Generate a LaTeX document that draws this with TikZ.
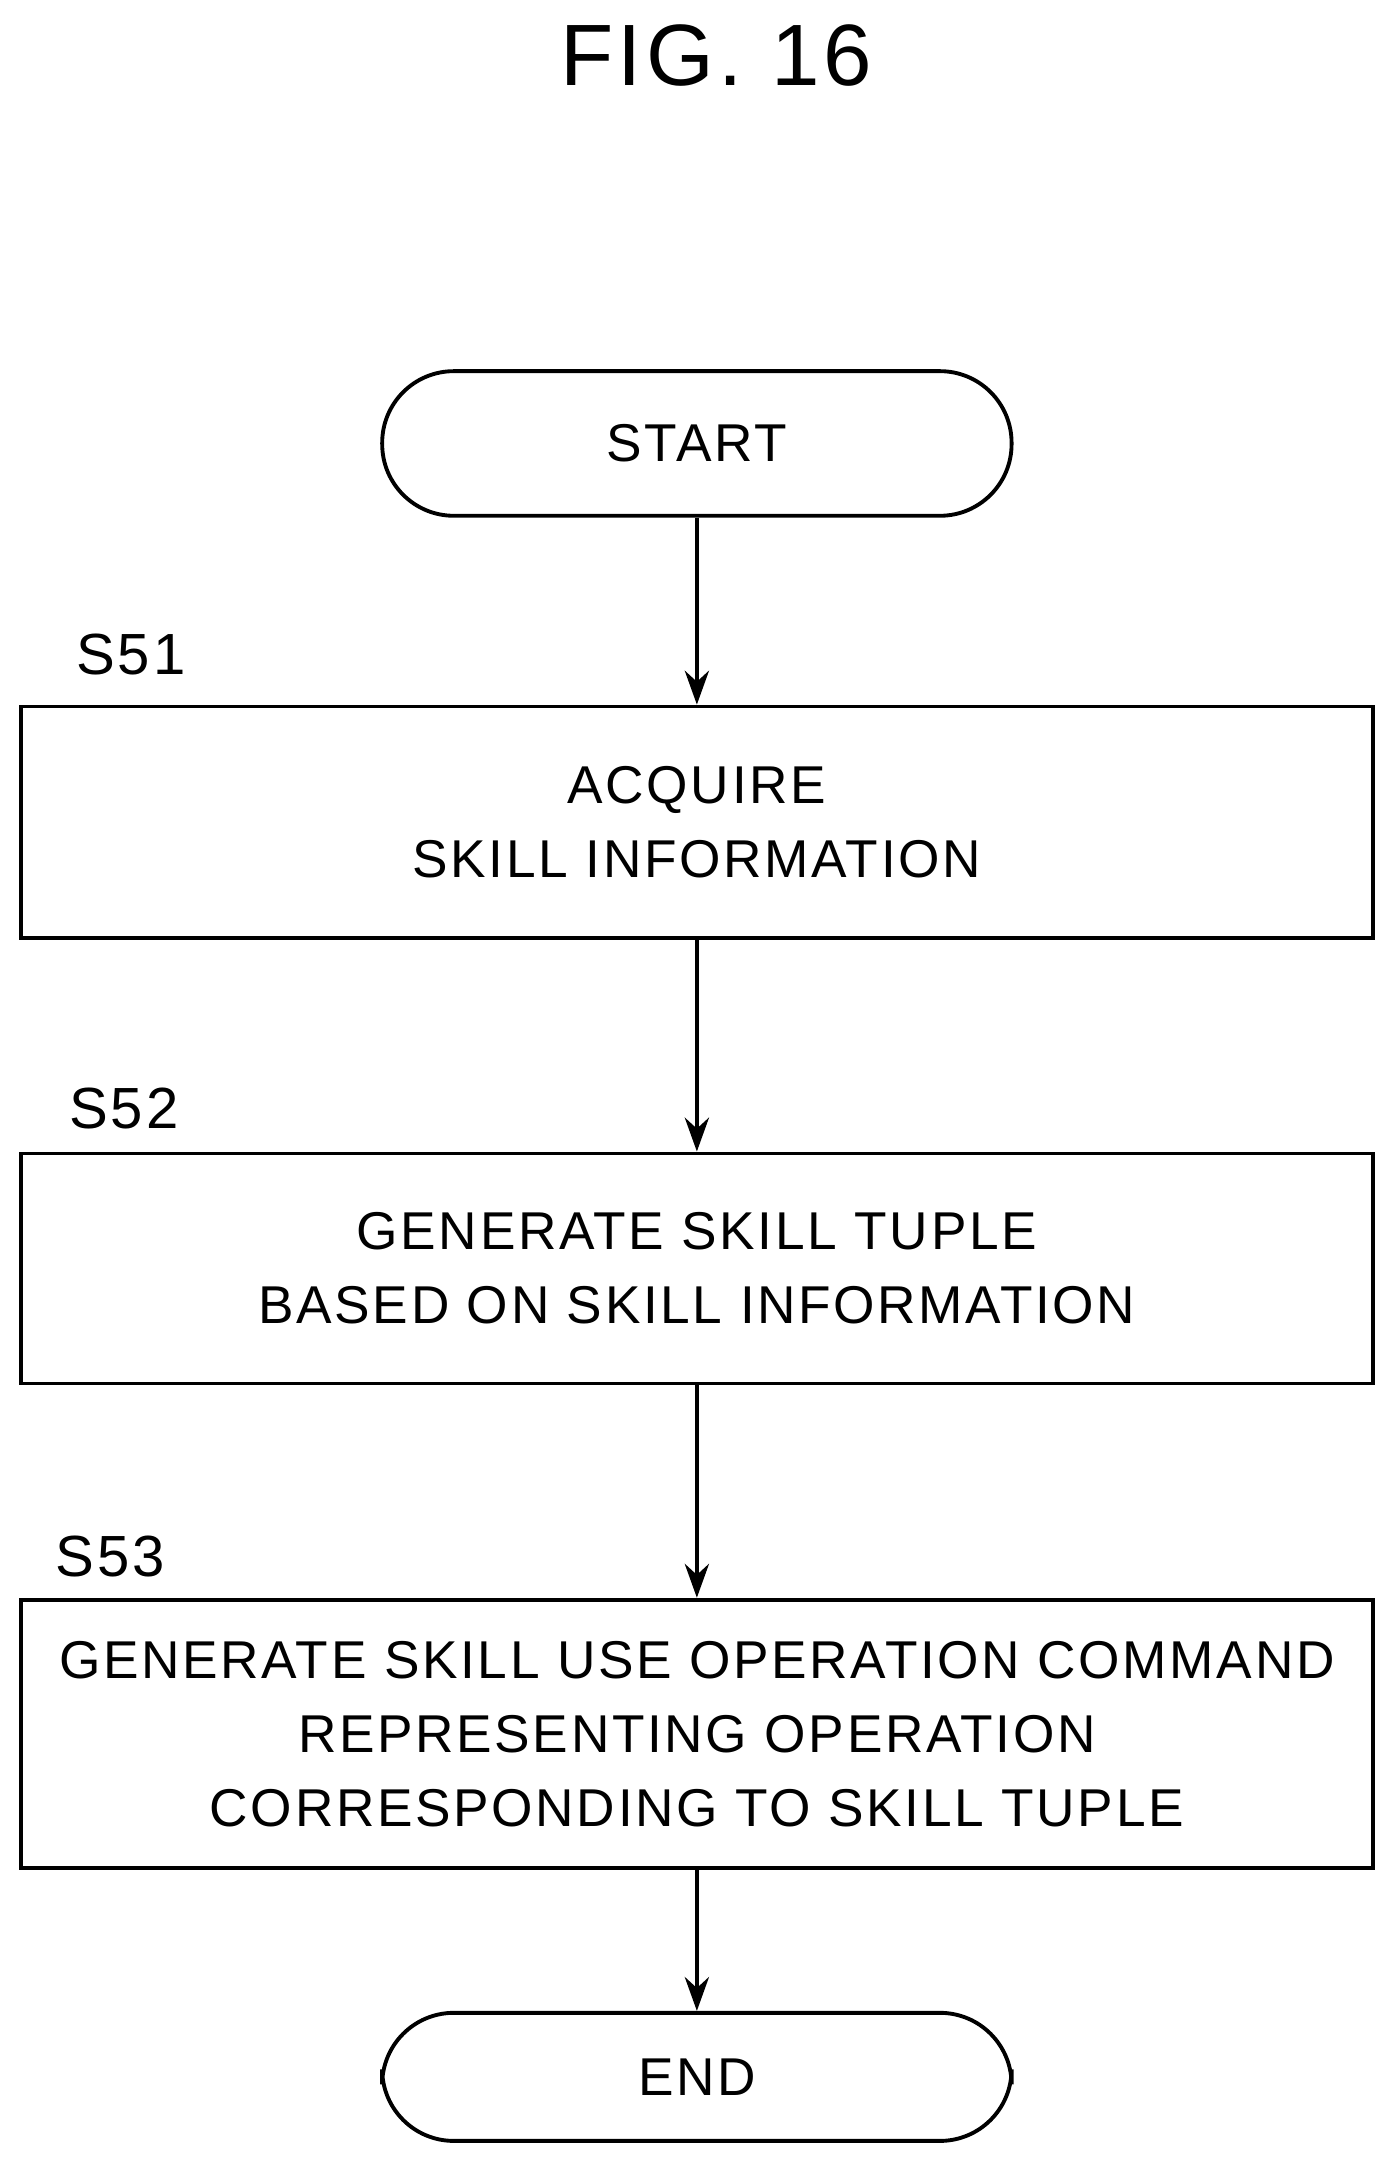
\documentclass[tikz,border=0pt]{standalone}
\usepackage{fontspec}
\setmainfont{Liberation Sans}[LetterSpace=5]
\usetikzlibrary{arrows.meta}
\begin{document}
\begin{tikzpicture}[x=0.02cm,y=-0.02cm,
  box/.style={draw,line width=1.6pt,minimum width=982*0.02cm,align=center,font=\fontsize{22}{30.6}\selectfont},
  term/.style={draw,line width=1.6pt,rounded corners=52*0.02cm,minimum width=457*0.02cm,font=\fontsize{22}{30.6}\selectfont},
  lab/.style={font=\fontsize{24}{28}\selectfont},
  arr/.style={line width=1.6pt,-{Stealth[length=14pt,width=10pt]}}]
\useasboundingbox (0,0) rectangle (1016,1572);
\node[font=\fontsize{36}{40}\selectfont] (title) at (520,40) {FIG. 16};
\node[term,minimum height=105*0.02cm] (start) at (506,322) {START};
\node[box,minimum height=168*0.02cm] (s51) at (506,597) {ACQUIRE\\SKILL INFORMATION};
\node[box,minimum height=167*0.02cm] (s52) at (506,921) {GENERATE SKILL TUPLE\\BASED ON SKILL INFORMATION};
\node[box,minimum height=195*0.02cm] (s53) at (506,1259) {GENERATE SKILL USE OPERATION COMMAND\\REPRESENTING OPERATION\\CORRESPONDING TO SKILL TUPLE};
\node[term,minimum height=93*0.02cm] (end) at (506,1508) {END};
\node[lab] (l51) at (95,475) {S51};
\node[lab] (l52) at (90,805) {S52};
\node[lab] (l53) at (80,1130) {S53};
\draw[arr] (start) -- (s51);
\draw[arr] (s51) -- (s52);
\draw[arr] (s52) -- (s53);
\draw[arr] (s53) -- (end);
\end{tikzpicture}
\end{document}
